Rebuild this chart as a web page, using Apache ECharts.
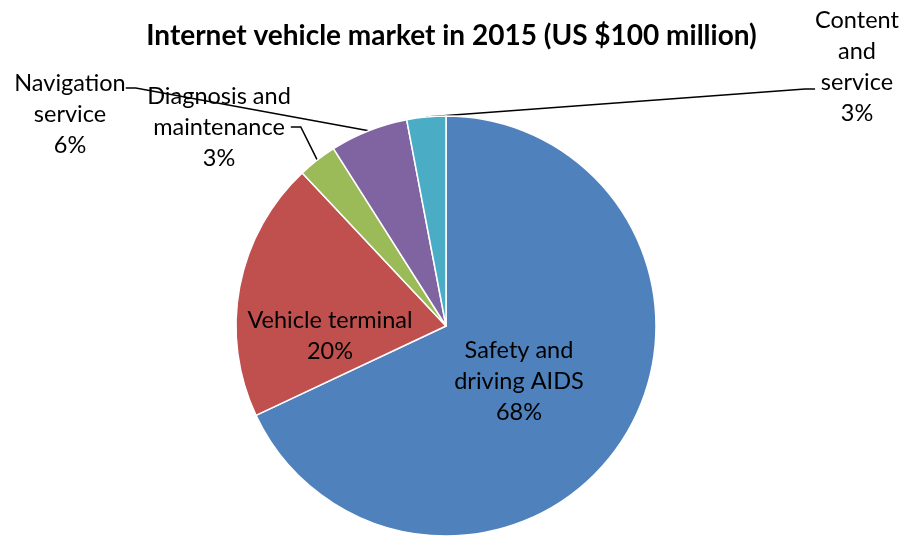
<!DOCTYPE html>
<html>
<head>
<meta charset="utf-8">
<script src="https://cdn.jsdelivr.net/npm/echarts@6/dist/echarts.min.js"></script>
<style>html,body{margin:0;padding:0;background:#fff}#c{width:903px;height:538px}</style>
</head>
<body>
<div id="c"></div>
<script>
const titleText = 'Internet vehicle market in 2015 (US $100 million)';
const categories = ['Safety and\ndriving AIDS', 'Vehicle terminal', 'Diagnosis and\nmaintenance', 'Navigation\nservice', 'Content\nand\nservice'];
const values = [68, 20, 3, 6, 3];
const colors = ['#4F81BD', '#C0504D', '#9BBB59', '#8064A2', '#4BACC6'];
const insideLabels = [true, true, false, false, false];
// label box centre, plus invisible spacer above/below so the leader line attaches where the reference does
const labelPos = [[519, 381], [330, 336], [219, 127], [70, 88], [857, 89]];
const spacerTop = [0, 0, 0, 53, 0];
const spacerBottom = [0, 0, 0, 0, 44];

const chart = echarts.init(document.getElementById('c'), null, {renderer: 'canvas'});
const data = categories.map((c, i) => ({
  name: c,
  value: values[i],
  itemStyle: {color: colors[i]},
  label: {
    position: insideLabels[i] ? 'inside' : 'outside',
    rich: {
      st: {fontSize: 1, lineHeight: spacerTop[i] || 1},
      sb: {fontSize: 1, lineHeight: spacerBottom[i] || 1}
    }
  },
  labelLine: {show: !insideLabels[i]}
}));
chart.setOption({
  animation: false,
  title: {
    text: titleText, left: 'center', top: 17,
    textStyle: {fontFamily: 'Lato', fontWeight: 'bold', fontSize: 28, color: '#000'}
  },
  series: [{
    type: 'pie',
    center: [446, 326],
    radius: 210,
    startAngle: 90,
    clockwise: true,
    avoidLabelOverlap: false,
    itemStyle: {borderColor: '#fff', borderWidth: 1.5},
    label: {
      formatter: function (p) {
        const i = p.dataIndex;
        const lines = (p.name + '\n' + Math.round(p.percent) + '%').split('\n').map(s => '{t|' + s + '}');
        if (spacerTop[i]) lines.unshift('{st| }');
        if (spacerBottom[i]) lines.push('{sb| }');
        return lines.join('\n');
      },
      rich: {
        t: {fontFamily: 'Lato', fontSize: 23.5, lineHeight: 31, color: '#000'}
      },
      fontFamily: 'Lato', fontSize: 23.5, lineHeight: 31, color: '#000', align: 'center'
    },
    labelLine: {lineStyle: {color: '#000', width: 1.5}, length: 15, length2: 10},
    labelLayout: function (p) {
      return {x: labelPos[p.dataIndex][0], y: labelPos[p.dataIndex][1], align: 'center', verticalAlign: 'middle'};
    },
    data: data
  }]
});
</script>
</body>
</html>
